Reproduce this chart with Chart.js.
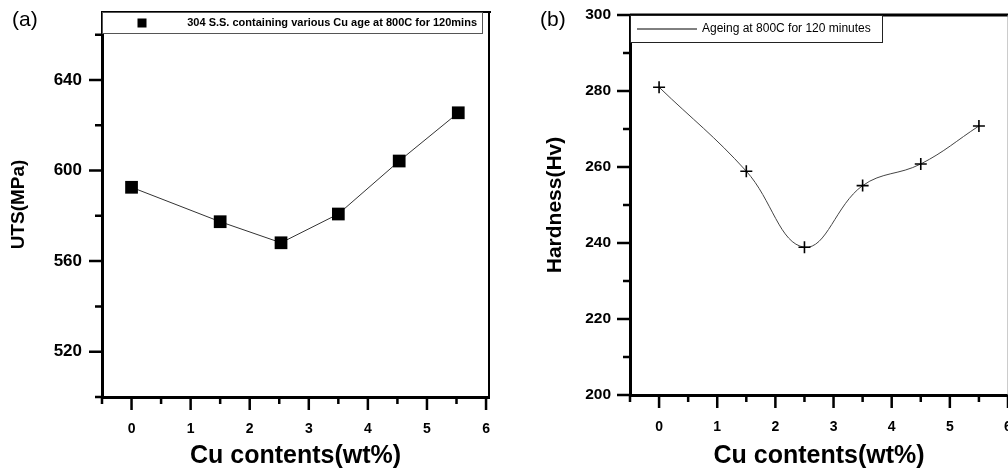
<!DOCTYPE html>
<html>
<head>
<meta charset="utf-8">
<script src="https://cdn.jsdelivr.net/npm/chart.js@4/dist/chart.umd.min.js"></script>
<style>
  html, body { margin: 0; padding: 0; background: #fff; }
  body { width: 1008px; height: 471px; overflow: hidden; position: relative; font-family: "Liberation Sans", Arial, sans-serif; }
  .panel-label { position: absolute; top: 7px; font-size: 21px; color: #000; }
  #wrapA { position: absolute; left: 0; top: 0; width: 520px; height: 471px; }
  #wrapB { position: absolute; left: 530px; top: 0; width: 540px; height: 471px; }
</style>
</head>
<body>
<div id="wrapA"><canvas id="chartA" width="520" height="471"></canvas></div>
<div id="wrapB"><canvas id="chartB" width="540" height="471"></canvas></div>
<div class="panel-label" style="left:12px">(a)</div>
<div class="panel-label" style="left:540px">(b)</div>
<script>
// panel (a): tensile strength
const cuA = [0, 1.5, 2.53, 3.5, 4.53, 5.53];
const utsA = [592.6, 577.4, 568.1, 580.8, 604.2, 625.5];
const yTicksA = [520, 560, 600, 640];
const yMinorA = [500, 540, 580, 620, 660];

// panel (b): hardness
const cuB = [0, 1.5, 2.5, 3.5, 4.5, 5.5];
const hvB = [281, 258.9, 238.9, 255.1, 260.8, 270.8];
const yTicksB = [200, 220, 240, 260, 280, 300];
const yMinorB = [210, 230, 250, 270, 290];

const xTicks = [0, 1, 2, 3, 4, 5, 6];
const xMinor = [-0.5, 0.5, 1.5, 2.5, 3.5, 4.5, 5.5];

const FONT = '"Liberation Sans", Arial, Helvetica, sans-serif';
Chart.defaults.font.family = FONT;
Chart.defaults.color = "#000";
Chart.defaults.animation = false;

// top/right frame lines and the outward major/minor ticks
const frameTicks = {
  id: "frameTicks",
  afterDraw(chart, args, o) {
    const { ctx, chartArea: a } = chart;
    const x = chart.scales.x, y = chart.scales.y;
    ctx.save();
    ctx.lineCap = "butt";
    ctx.strokeStyle = "#000";
    ctx.lineWidth = o.topWidth;
    ctx.beginPath();
    ctx.moveTo(a.left, a.top);
    ctx.lineTo(a.right + 2, a.top);
    ctx.stroke();
    ctx.strokeStyle = o.rightColor;
    ctx.lineWidth = o.rightWidth;
    ctx.beginPath();
    ctx.moveTo(a.right, a.top);
    ctx.lineTo(a.right, a.bottom);
    ctx.stroke();

    ctx.strokeStyle = "#000";
    ctx.lineWidth = o.tickWidth;
    ctx.beginPath();
    o.xMajor.forEach(v => {
      const px = x.getPixelForValue(v);
      ctx.moveTo(px, a.bottom); ctx.lineTo(px, a.bottom + o.majorLen);
    });
    o.xMinor.forEach(v => {
      const px = x.getPixelForValue(v);
      ctx.moveTo(px, a.bottom); ctx.lineTo(px, a.bottom + o.minorLen);
    });
    o.yMajor.forEach(v => {
      const py = y.getPixelForValue(v);
      ctx.moveTo(a.left, py); ctx.lineTo(a.left - o.majorLen, py);
    });
    o.yMinor.forEach(v => {
      const py = y.getPixelForValue(v);
      ctx.moveTo(a.left, py); ctx.lineTo(a.left - o.minorLen, py);
    });
    ctx.stroke();
    ctx.restore();
  }
};

// boxed legend sitting on the top edge of the plot
const boxLegend = {
  id: "boxLegend",
  afterDraw(chart, args, o) {
    const { ctx, chartArea: a } = chart;
    const ds = chart.data.datasets[0];
    ctx.save();
    ctx.fillStyle = "#fff";
    ctx.fillRect(a.left + 1, a.top + 1, o.width - 1, o.height - 1);
    ctx.strokeStyle = o.borderColor;
    ctx.lineWidth = 1;
    ctx.strokeRect(a.left + 0.5, a.top + 0.5, o.width, o.height);
    const cy = a.top + o.height / 2 + 0.5;
    if (o.symbol === "rect") {
      ctx.fillStyle = "#000";
      ctx.fillRect(a.left + o.symbolX - o.symbolSize / 2, cy - o.symbolSize / 2, o.symbolSize, o.symbolSize);
    } else {
      ctx.strokeStyle = "#000";
      ctx.beginPath();
      ctx.moveTo(a.left + o.symbolX, cy);
      ctx.lineTo(a.left + o.symbolX + o.symbolSize, cy);
      ctx.stroke();
    }
    ctx.fillStyle = "#000";
    ctx.font = o.font;
    ctx.textBaseline = "middle";
    ctx.textAlign = o.textAlign;
    ctx.fillText(ds.label, a.left + o.textX, cy);
    ctx.restore();
  }
};

function makeChart(id, cfg) {
  return new Chart(document.getElementById(id), {
    type: "line",
    data: {
      datasets: [{
        label: cfg.label,
        data: cfg.xs.map((v, i) => ({ x: v, y: cfg.ys[i] })),
        borderColor: cfg.lineColor,
        borderWidth: 1,
        tension: cfg.tension,
        pointStyle: cfg.pointStyle,
        pointRadius: cfg.pointRadius,
        pointBorderWidth: cfg.pointBorderWidth,
        pointBackgroundColor: "#000",
        pointBorderColor: "#000",
      }],
    },
    options: {
      responsive: false,
      maintainAspectRatio: false,
      layout: { padding: cfg.padding },
      plugins: {
        legend: { display: false },
        tooltip: { enabled: false },
        frameTicks: cfg.frame,
        boxLegend: cfg.legend,
      },
      scales: {
        x: {
          type: "linear",
          min: -0.5,
          max: cfg.xMax,
          grid: { display: false, drawTicks: false },
          border: { display: true, width: 3, color: "#000" },
          afterBuildTicks: s => { s.ticks = xTicks.map(v => ({ value: v })); },
          afterFit: s => { s.height = cfg.xHeight; s.paddingLeft = 0; s.paddingRight = 0; },
          ticks: { font: { size: 14, weight: "bold" }, padding: 24, maxRotation: 0 },
          title: { display: true, text: "Cu contents(wt%)", font: { size: 25, weight: "bold" }, padding: { top: 0, bottom: 0 } },
        },
        y: {
          min: cfg.yMin,
          max: cfg.yMax,
          grid: { display: false, drawTicks: false },
          border: { display: true, width: 3, color: "#000" },
          afterBuildTicks: s => { s.ticks = cfg.yTicks.map(v => ({ value: v })); },
          afterFit: s => { s.width = cfg.yWidth; s.paddingTop = 0; s.paddingBottom = 0; },
          ticks: { font: { size: cfg.yTickSize, weight: "bold" }, padding: cfg.yTickPad },
          title: { display: true, text: cfg.yTitle, font: { size: cfg.yTitleSize, weight: "bold" }, padding: { top: cfg.yTitlePad, bottom: 0 } },
        },
      },
    },
    plugins: [frameTicks, boxLegend],
  });
}

makeChart("chartA", {
  label: "304 S.S. containing various Cu age at 800C for 120mins",
  xs: cuA, ys: utsA,
  lineColor: "#333", tension: 0,
  pointStyle: "rect", pointRadius: 9, pointBorderWidth: 0,
  padding: { left: 0, top: 12, right: 31, bottom: 0 },
  xMax: 6.05, xHeight: 74,
  yMin: 500, yMax: 670, yTicks: yTicksA, yWidth: 102,
  yTickSize: 17, yTickPad: 20,
  yTitle: "UTS(MPa)", yTitleSize: 19, yTitlePad: 7,
  frame: { topWidth: 2, rightWidth: 2, rightColor: "#000", tickWidth: 2.5, majorLen: 13, minorLen: 7,
    xMajor: xTicks, xMinor: xMinor, yMajor: yTicksA, yMinor: yMinorA },
  legend: { width: 380, height: 21, borderColor: "#555", symbol: "rect", symbolX: 40, symbolSize: 9,
    textX: 375, textAlign: "right", font: "bold 11px " + FONT },
});

makeChart("chartB", {
  label: "Ageing at 800C for 120 minutes",
  xs: cuB, ys: hvB,
  lineColor: "#444", tension: 0.4,
  pointStyle: "cross", pointRadius: 6, pointBorderWidth: 1.6,
  padding: { left: 0, top: 15, right: 62, bottom: 0 },
  xMax: 6, xHeight: 76,
  yMin: 200, yMax: 300, yTicks: yTicksB, yWidth: 100,
  yTickSize: 15.5, yTickPad: 19,
  yTitle: "Hardness(Hv)", yTitleSize: 21, yTitlePad: 13,
  frame: { topWidth: 3, rightWidth: 1, rightColor: "#999", tickWidth: 2.5, majorLen: 13, minorLen: 7,
    xMajor: xTicks, xMinor: xMinor, yMajor: yTicksB, yMinor: yMinorB },
  legend: { width: 252, height: 27, borderColor: "#222", symbol: "line", symbolX: 7, symbolSize: 60,
    textX: 72, textAlign: "left", font: "12px " + FONT },
});
</script>
</body>
</html>
